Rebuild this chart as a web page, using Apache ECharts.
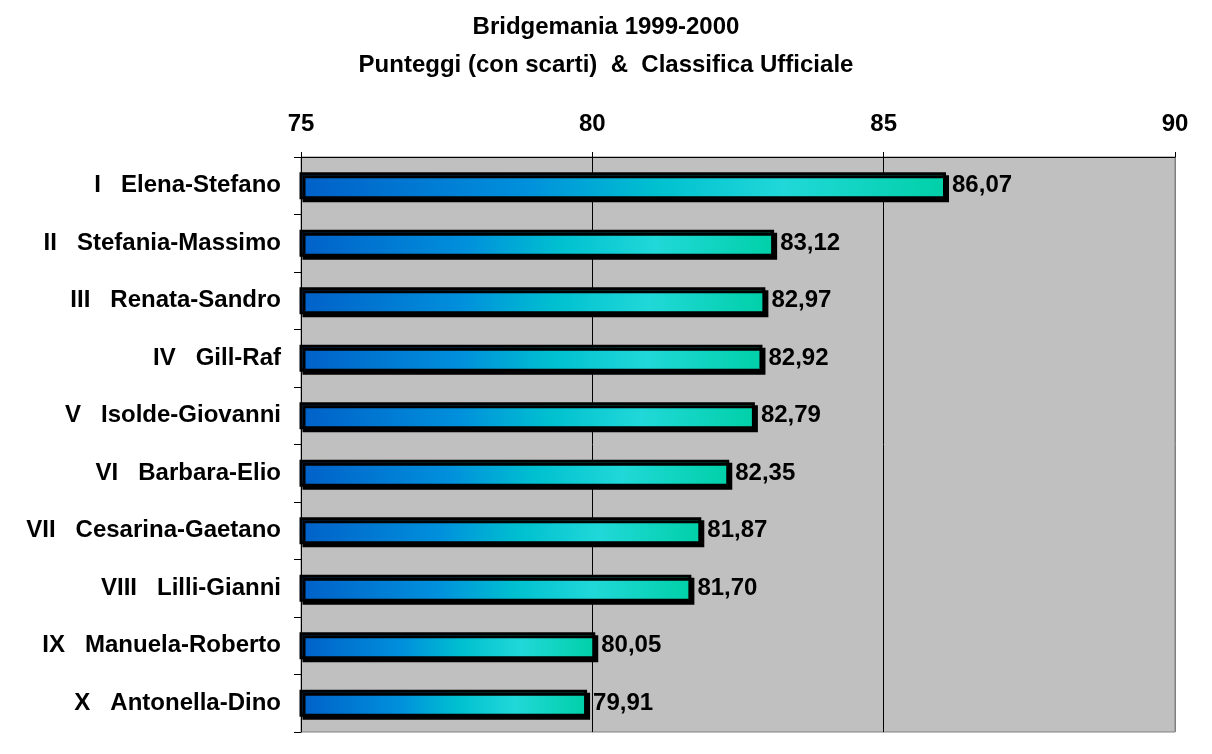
<!DOCTYPE html>
<html>
<head>
<meta charset="utf-8">
<script src="https://cdn.jsdelivr.net/npm/echarts@6/dist/echarts.min.js"></script>
<style>
html,body{margin:0;padding:0;background:#fff;}
#chart{width:1212px;height:754px;}
</style>
</head>
<body>
<div id="chart"></div>
<script>
const categories = [
  "I   Elena-Stefano",
  "II   Stefania-Massimo",
  "III   Renata-Sandro",
  "IV   Gill-Raf",
  "V   Isolde-Giovanni",
  "VI   Barbara-Elio",
  "VII   Cesarina-Gaetano",
  "VIII   Lilli-Gianni",
  "IX   Manuela-Roberto",
  "X   Antonella-Dino"
];
const scores = [86.07, 83.12, 82.97, 82.92, 82.79, 82.35, 81.87, 81.70, 80.05, 79.91];
const axisMin = 75, axisMax = 90, axisStep = 5;

const font = '"Liberation Sans", Arial, sans-serif';
const fs = 24;
const chart = echarts.init(document.getElementById('chart'), null, {renderer:'canvas'});
chart.setOption({
  backgroundColor: '#ffffff',
  animation: false,
  title: {
    text: 'Bridgemania 1999-2000\nPunteggi (con scarti)  &  Classifica Ufficiale',
    left: 'center',
    top: 3,
    textStyle: {fontFamily: font, fontWeight: 'bold', fontSize: fs, color: '#000', lineHeight: 38}
  },
  grid: {
    left: 301, right: 37, top: 157, bottom: 22,
    show: true, backgroundColor: '#C0C0C0', borderColor: '#808080', borderWidth: 1
  },
  xAxis: {
    type: 'value', position: 'top', min: axisMin, max: axisMax, interval: axisStep,
    axisLine: {show: true, lineStyle: {color: '#000', width: 1}},
    axisTick: {show: true, length: 5, lineStyle: {color: '#000'}},
    axisLabel: {fontFamily: font, fontWeight: 'bold', fontSize: fs, color: '#000', margin: 21},
    splitLine: {show: true, lineStyle: {color: ['#000','#000','#000','#808080'], width: 1}}
  },
  yAxis: {
    type: 'category', data: categories, inverse: true,
    axisLine: {show: true, lineStyle: {color: '#000', width: 1}},
    axisTick: {show: true, length: 7, lineStyle: {color: '#000'}},
    axisLabel: {fontFamily: font, fontWeight: 'bold', fontSize: fs, color: '#000', margin: 20}
  },
  series: [{
    type: 'bar',
    data: scores,
    barWidth: 27,
    itemStyle: {
      color: new echarts.graphic.LinearGradient(0, 0, 1, 0, [
        {offset: 0, color: '#0060C8'},
        {offset: 0.35, color: '#0090DC'},
        {offset: 0.55, color: '#00C0D0'},
        {offset: 0.75, color: '#20D8D8'},
        {offset: 1, color: '#00D0A8'}
      ]),
      borderColor: '#000', borderWidth: 3,
      shadowColor: '#000', shadowBlur: 0, shadowOffsetX: 3, shadowOffsetY: 3
    },
    label: {
      show: true, position: 'right', distance: 6,
      fontFamily: font, fontWeight: 'bold', fontSize: fs, color: '#000',
      formatter: p => p.value.toFixed(2).replace('.', ',')
    }
  }]
});
</script>
</body>
</html>
